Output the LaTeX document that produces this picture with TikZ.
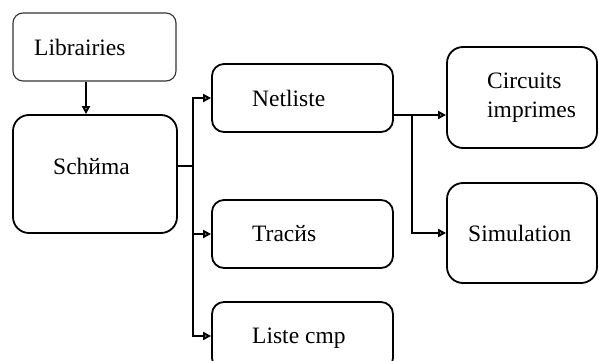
\documentclass[tikz,border=0pt]{standalone}
\usepackage{fontspec}
\setmainfont{Liberation Serif}
\usetikzlibrary{arrows.meta}
\begin{document}
\begin{tikzpicture}[x=1pt,y=-1pt,
  box/.style={draw, line width=1.8pt, rounded corners=12pt, inner sep=0pt},
  thinbox/.style={draw=black!80, line width=1.1pt, rounded corners=10pt, inner sep=0pt},
  lbl/.style={anchor=base west, inner sep=0pt, font=\fontsize{23.5}{29}\selectfont},
  conn/.style={line width=2.4pt},
  arr/.style={line width=2.4pt, -{Triangle[open,length=8pt,width=8pt]}}]
\useasboundingbox (0,0) rectangle (599,361);
\clip (0,0) rectangle (599,361);
% boxes
\node[thinbox, minimum width=163pt, minimum height=68pt] (lib) at (94.5,47) {};
\node[box, rounded corners=16pt, minimum width=164pt, minimum height=118pt] (sch) at (95,174) {};
\node[box, minimum width=181pt, minimum height=68pt] (net) at (302.5,98) {};
\node[box, minimum width=181pt, minimum height=68pt] (trac) at (302.5,234) {};
\node[box, minimum width=181pt, minimum height=68pt] (liste) at (302.5,336) {};
\node[box, rounded corners=16pt, minimum width=150pt, minimum height=101pt] (circ) at (522,97.5) {};
\node[box, rounded corners=16pt, minimum width=150pt, minimum height=100pt] (sim) at (522,233) {};
% texts
\node[lbl] (tlib) at (34,56) {Librairies};
\node[lbl] (tsch) at (53,174) {Schйma};
\node[lbl] (tnet) at (252,106) {Netliste};
\node[lbl] (ttrac) at (252,241) {Tracйs};
\node[lbl] (tliste) at (252,343) {Liste cmp};
\node[lbl] (tcirc1) at (487,88) {Circuits};
\node[lbl] (tcirc2) at (487,117) {imprimes};
\node[lbl] (tsim) at (468,241) {Simulation};
% connectors
\draw[arr] ([xshift=-8.5pt]lib.south) -- ([xshift=-8.5pt]lib.south |- sch.north);
\coordinate (bus) at (193,166);
\draw[conn] ([yshift=8pt]sch.east) -- (bus);
\draw[arr] (bus) |- (net.west);
\draw[arr] (bus) |- (trac.west);
\draw[arr] (bus) |- (liste.west);
\coordinate (nout) at ([yshift=-17pt]net.east);
\coordinate (br) at (412,115);
\draw[arr] (nout) -- (nout -| circ.west);
\draw[arr] (br) |- (sim.west);
\end{tikzpicture}
\end{document}
